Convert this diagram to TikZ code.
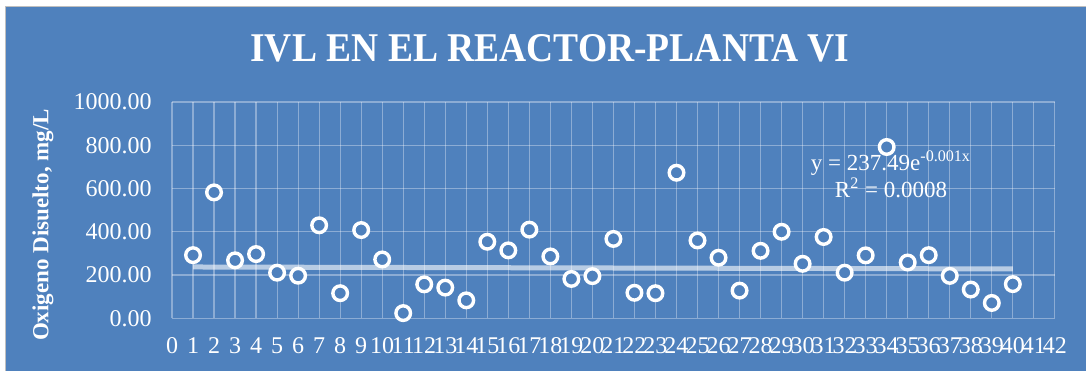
\documentclass[tikz,border=0pt]{standalone}
\usepackage{fontspec}
\setmainfont{Liberation Serif}
\usepackage{xcolor}
\usetikzlibrary{calc}
\definecolor{chartblue}{RGB}{79,129,189}

\begin{document}
\begin{tikzpicture}[x=0.5pt,y=0.5pt,
  lab/.style={text=white,font=\fontsize{12}{14}\selectfont,inner sep=0pt},
  gridline/.style={white,opacity=0.35,line width=0.6pt},
  markdot/.style={circle,draw=white,fill=chartblue,line width=1.7pt,minimum size=7.3pt,inner sep=0pt},
  trend/.style={white,opacity=0.6,line width=2.5pt}]

  \useasboundingbox (0,0) rectangle (1086,371);
  \fill[white] (0,0) rectangle (1086,371);
  \fill[chartblue] (5,0) rectangle (1086,365);
  \draw[gray!50,line width=0.4pt] (5,0) -- (5,365) -- (1086,365);

  \node[text=white,inner sep=0pt,anchor=base] (title) at (550,309.3)
    {\scalebox{0.92}[1]{\fontsize{20.4}{24}\selectfont\bfseries IVL EN EL REACTOR-PLANTA VI}};

  \node[text=white,inner sep=0pt,rotate=90,font=\fontsize{11.5}{13}\selectfont\bfseries] (ytitle) at (43,146)
    {Oxigeno Disuelto, mg/L};

  \begin{scope}[shift={(172,52.7)},x=10.51pt,y=0.10815pt]
    % grid
    \foreach \k in {0,...,42}
      \draw[gridline] (\k,0) -- (\k,1000);
    \foreach \v in {0,200,...,1000}
      \draw[gridline] (0,\v) -- (42,\v);
    % axis labels
    \foreach \k in {0,...,42}
      \node[lab,anchor=base] (xt\k) at ([yshift=-17.35pt]\k,0) {\k};
    \foreach \v in {0,200,...,1000}
      \node[lab,anchor=east] (yt\v) at ([xshift=-10pt]0,\v) {\v.00};

    % trend line
    \draw[trend] plot[domain=1:40,samples=40] (\x,{237.49*exp(-0.001*\x)});

    % data
    \foreach \v [count=\k] in {292,582,268,297,211,197,430,116,408,272,
                               24,157,142,83,354,314,410,286,182,195,
                               367,118,116,673,360,280,128,312,400,252,
                               376,211,291,792,258,292,196,133,71,158}
      \node[markdot] (p\k) at (\k,\v) {};
  \end{scope}

  \node[lab,anchor=base,font=\fontsize{11.5}{13}\selectfont] (eq) at (891,201)
    {y = 237.49e\textsuperscript{-0.001x}};
  \node[lab,anchor=base,font=\fontsize{11.5}{13}\selectfont] (rsq) at (891,174)
    {R\textsuperscript{2} = 0.0008};

\end{tikzpicture}
\end{document}
